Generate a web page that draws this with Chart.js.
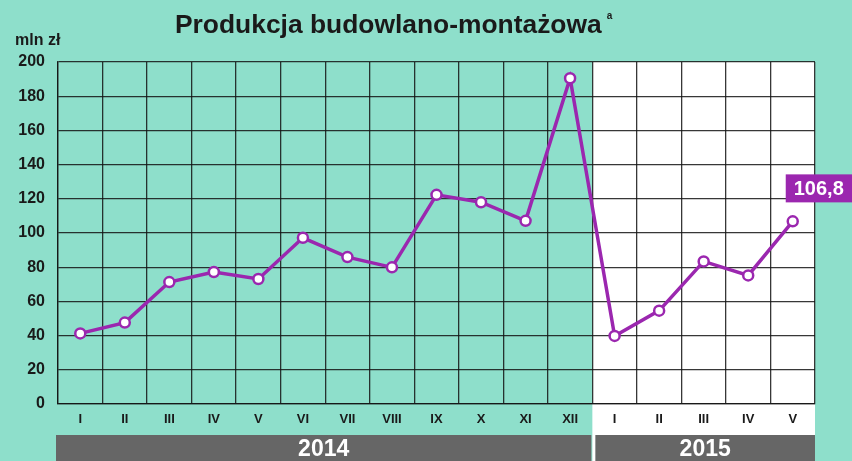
<!DOCTYPE html>
<html>
<head>
<meta charset="utf-8">
<script src="https://cdn.jsdelivr.net/npm/chart.js@4.4.1/dist/chart.umd.min.js"></script>
<style>
  html, body { margin: 0; padding: 0; background: #8EDFCB; }
  canvas { display: block; }
</style>
</head>
<body>
<canvas id="chart" width="852" height="461"></canvas>
<script>
// data (mln zł)
const months2014 = ["I", "II", "III", "IV", "V", "VI", "VII", "VIII", "IX", "X", "XI", "XII"];
const months2015 = ["I", "II", "III", "IV", "V"];
const values2014 = [41.3, 47.6, 71.3, 77.2, 73.1, 97.2, 85.9, 79.9, 122.3, 118.0, 107.1, 190.5];
const values2015 = [39.8, 54.6, 83.4, 75.2, 106.8];
const years = ["2014", "2015"];
const lastLabel = "106,8";

const labels = months2014.concat(months2015);
const values = values2014.concat(values2015);

const teal = "#8EDFCB";
const purple = "#9B27AF";
const font = "'Liberation Sans', Arial, sans-serif";

//background, year bands, title
const backPlugin = {
  id: "back",
  beforeDraw(chart) {
    const ctx = chart.ctx;
    const area = chart.chartArea;
    const x = chart.scales.x;
    const half = (x.getPixelForValue(1) - x.getPixelForValue(0)) / 2;
    const split = x.getPixelForValue(months2014.length) - half;

    ctx.save();
    ctx.fillStyle = teal;
    ctx.fillRect(0, 0, chart.width, chart.height);

    ctx.fillStyle = "#ffffff";
    ctx.fillRect(split, area.top, area.right - split, chart.height - area.top);

    // year bands
    const bandTop = 435;
    ctx.fillStyle = "#666666";
    ctx.fillRect(area.left - 2, bandTop, split - 1 - (area.left - 2), chart.height - bandTop);
    ctx.fillRect(split + 3, bandTop, area.right - split - 3, chart.height - bandTop);

    ctx.fillStyle = "#ffffff";
    ctx.font = "bold 23px " + font;
    ctx.textAlign = "center";
    ctx.textBaseline = "middle";
    ctx.fillText(years[0], (area.left - 2 + split - 1) / 2, 450);
    ctx.fillText(years[1], (split + 3 + area.right) / 2, 450);

    // title
    ctx.fillStyle = "#1a1a1a";
    ctx.textAlign = "left";
    ctx.textBaseline = "alphabetic";
    ctx.font = "bold 26.4px " + font;
    const title = "Produkcja budowlano-montażowa";
    ctx.fillText(title, 175, 33);
    const tw = ctx.measureText(title).width;
    ctx.font = "bold 10px " + font;
    ctx.fillText("a", 175 + tw + 5, 19);

    ctx.font = "bold 16px " + font;
    ctx.fillText("mln zł", 15, 45);
    ctx.restore();
  }
};

// value box on last point
const labelPlugin = {
  id: "lastLabel",
  afterDatasetsDraw(chart) {
    const ctx = chart.ctx;
    const meta = chart.getDatasetMeta(0);
    const pt = meta.data[meta.data.length - 1];
    ctx.save();
    ctx.fillStyle = purple;
    ctx.fillRect(pt.x - 7, pt.y - 47, 80, 28);
    ctx.fillStyle = "#ffffff";
    ctx.font = "bold 20px " + font;
    ctx.textAlign = "left";
    ctx.textBaseline = "middle";
    ctx.fillText(lastLabel, pt.x + 1, pt.y - 32);
    ctx.restore();
  }
};

new Chart(document.getElementById("chart"), {
  type: "line",
  data: {
    labels: labels,
    datasets: [{
      data: values,
      borderColor: purple,
      borderWidth: 3.5,
      pointRadius: 5,
      pointBorderWidth: 2.5,
      pointBackgroundColor: "#ffffff",
      pointBorderColor: purple,
      tension: 0
    }]
  },
  options: {
    responsive: false,
    animation: false,
    layout: { padding: { top: 62, right: 37, left: 0, bottom: 0 } },
    plugins: {
      legend: { display: false },
      tooltip: { enabled: false }
    },
    scales: {
      x: {
        offset: true,
        grid: { offset: true, color: "rgba(20,20,20,0.85)", lineWidth: 1.3, drawTicks: false },
        border: { color: "rgba(20,20,20,0.85)", width: 1.3 },
        ticks: { color: "#1a1a1a", font: { family: font, size: 13, weight: "bold" }, padding: 8, autoSkip: false, maxRotation: 0 },
        afterFit(scale) { scale.height = 57; }
      },
      y: {
        min: 0,
        max: 200,
        grid: { color: "rgba(20,20,20,0.85)", lineWidth: 1.3, drawTicks: false },
        border: { color: "rgba(20,20,20,0.85)", width: 1.3 },
        ticks: { stepSize: 20, color: "#1a1a1a", font: { family: font, size: 16, weight: "bold" }, padding: 13 },
        afterFit(scale) { scale.width = 58; }
      }
    }
  },
  plugins: [backPlugin, labelPlugin]
});
</script>
</body>
</html>
